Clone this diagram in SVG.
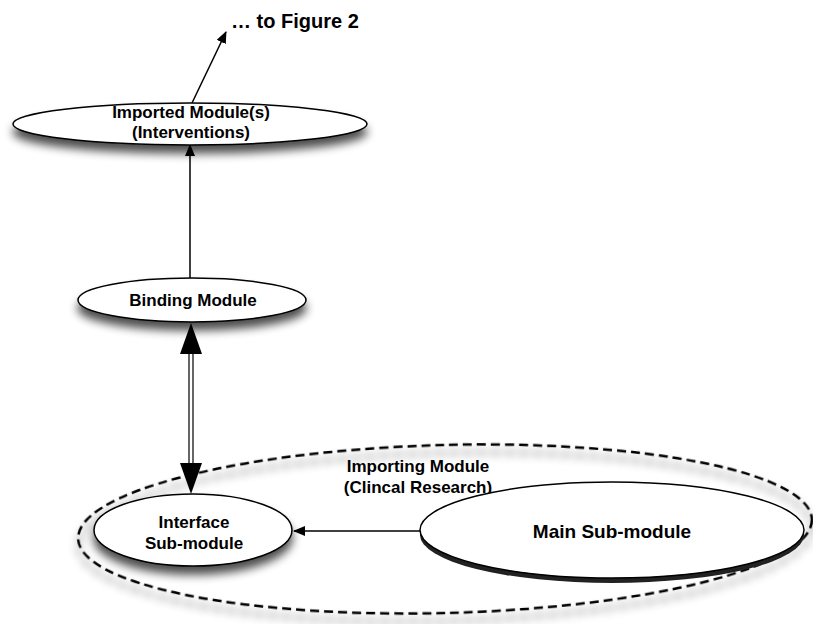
<svg xmlns="http://www.w3.org/2000/svg" width="813" height="624" viewBox="0 0 813 624">
<style>
.n{fill:#fff;stroke:#000;stroke-width:1.5}
.t{font-family:"Liberation Sans",Arial,sans-serif;font-weight:bold;font-size:17px;fill:#000;text-anchor:middle}
.c{stroke:#000;stroke-width:1.5;fill:none}
</style>
<defs>
<filter id="sh" x="-20%" y="-50%" width="140%" height="220%">
<feGaussianBlur in="SourceAlpha" stdDeviation="5"/>
<feOffset dx="0" dy="8" result="b"/>
<feComponentTransfer><feFuncA type="linear" slope="0.7"/></feComponentTransfer>
<feMerge><feMergeNode/><feMergeNode in="SourceGraphic"/></feMerge>
</filter>
<marker id="ah" markerWidth="12" markerHeight="10" refX="11" refY="5" orient="auto" markerUnits="userSpaceOnUse">
<path d="M0,0 L12,5 L0,10 z" fill="#000"/>
</marker>
</defs>
<g id="importing-module">
<ellipse cx="445" cy="529" rx="367" ry="84" transform="rotate(-1.5 445 529)" fill="none" stroke="#000" stroke-width="2.5" stroke-dasharray="9,5" filter="url(#sh)"/>
<text class="t" x="418" y="472">Importing Module</text>
<text class="t" x="418" y="493">(Clincal Research)</text>
</g>
<g id="connectors">
<line class="c" x1="192" y1="103" x2="226" y2="32" marker-end="url(#ah)"/>
<line class="c" x1="190" y1="278" x2="190" y2="145" marker-end="url(#ah)"/>
<line class="c" x1="420" y1="531" x2="294" y2="531" marker-end="url(#ah)"/>
<line x1="189" y1="350" x2="189" y2="466" stroke="#333" stroke-width="1.5"/>
<line x1="193" y1="350" x2="193" y2="466" stroke="#333" stroke-width="1.5"/>
<path d="M191,323 L180,354 L202,354 z" fill="#000"/>
<path d="M191,494 L180,463 L202,463 z" fill="#000"/>
</g>
<g id="to-figure-2">
<text x="231" y="28" style="font-family:'Liberation Sans',Arial,sans-serif;font-weight:bold;font-size:20px">… to Figure 2</text>
</g>
<g id="imported-module">
<ellipse class="n" cx="190" cy="124" rx="177" ry="21" filter="url(#sh)"/>
<text class="t" x="191" y="118">Imported Module(s)</text>
<text class="t" x="191" y="138">(Interventions)</text>
</g>
<g id="binding-module">
<ellipse class="n" cx="192" cy="300" rx="114" ry="22" filter="url(#sh)"/>
<text class="t" x="193" y="306">Binding Module</text>
</g>
<g id="interface-sub-module">
<ellipse class="n" cx="193" cy="530" rx="99" ry="36" filter="url(#sh)"/>
<text class="t" x="194" y="528">Interface</text>
<text class="t" x="194" y="549">Sub-module</text>
</g>
<g id="main-sub-module">
<ellipse cx="612" cy="535" rx="192" ry="48" fill="#222"/>
<ellipse class="n" cx="612" cy="530" rx="192" ry="48"/>
<text class="t" x="612" y="538" style="font-size:19px">Main Sub-module</text>
</g>
</svg>
